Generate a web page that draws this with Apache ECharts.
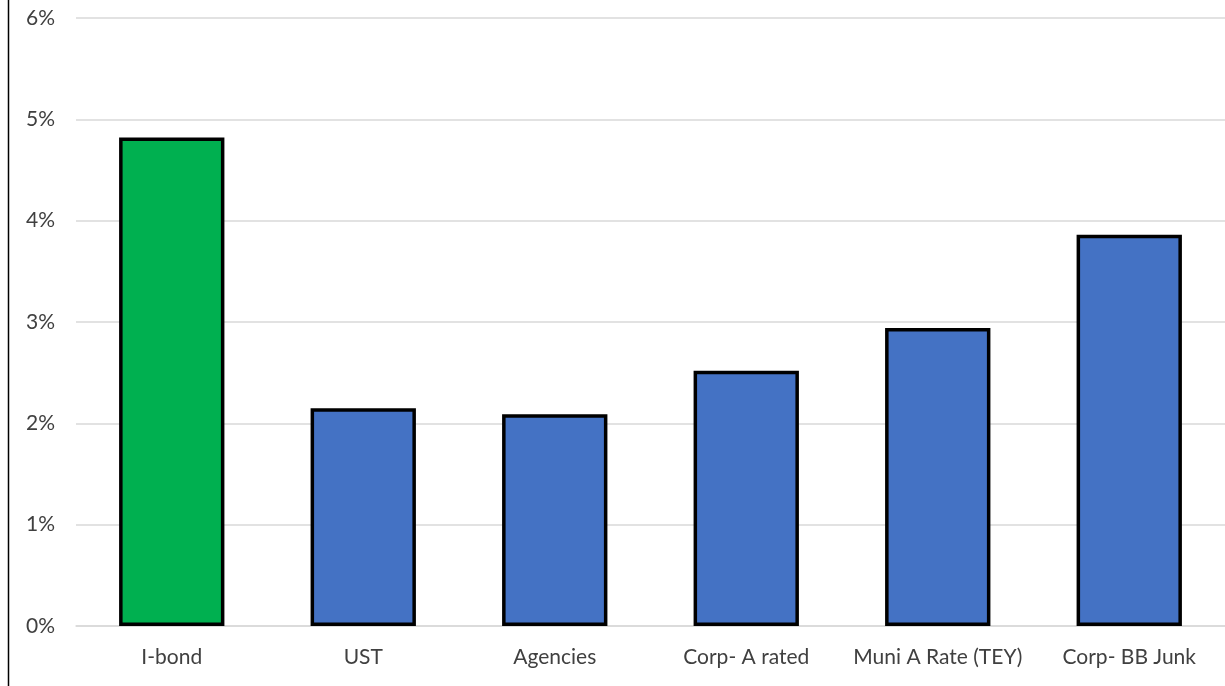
<!DOCTYPE html>
<html><head><meta charset="utf-8">
<script src="https://cdn.jsdelivr.net/npm/echarts@6/dist/echarts.min.js"></script>
<style>html,body{margin:0;padding:0;background:#fff}#c{width:1225px;height:686px}</style>
</head><body><div id="c"></div>
<script>
const categories = ['I-bond','UST','Agencies','Corp- A rated','Muni A Rate (TEY)','Corp- BB Junk'];
const values = [4.82, 2.15, 2.09, 2.52, 2.94, 3.86];
const barColors = ['#00B050','#4472C4','#4472C4','#4472C4','#4472C4','#4472C4'];
const yTicks = [0,1,2,3,4,5,6];

const chart = echarts.init(document.getElementById('c'));
chart.setOption({
  animation: false,
  backgroundColor: '#fff',
  grid: {left: 76, right: 0, top: 18, bottom: 60},
  graphic: [{type:'line', shape:{x1:8.5,y1:0,x2:8.5,y2:686}, style:{stroke:'#000', lineWidth:1.5}}],
  xAxis: {
    type: 'category', data: categories,
    axisLine: {show: true, lineStyle: {color: '#d9d9d9', width: 1.5}},
    axisTick: {show: false},
    axisLabel: {interval: 0, hideOverlap: false, color: '#404040', fontSize: 21, fontFamily: 'Lato, Open Sans, sans-serif', margin: 21}
  },
  yAxis: {
    type: 'value', min: yTicks[0], max: yTicks[yTicks.length-1], interval: 1,
    axisLine: {show: false}, axisTick: {show: false},
    splitLine: {lineStyle: {color: '#d9d9d9', width: 1.5}},
    axisLabel: {color: '#404040', fontSize: 21, fontFamily: 'Lato, Open Sans, sans-serif', margin: 21, formatter: v => v + '%'}
  },
  series: [{
    type: 'bar', barWidth: '55%',
    data: values.map((v, i) => ({value: v, itemStyle: {color: barColors[i]}})),
    itemStyle: {borderColor: '#000', borderWidth: 3.5}
  }]
});
</script></body></html>
